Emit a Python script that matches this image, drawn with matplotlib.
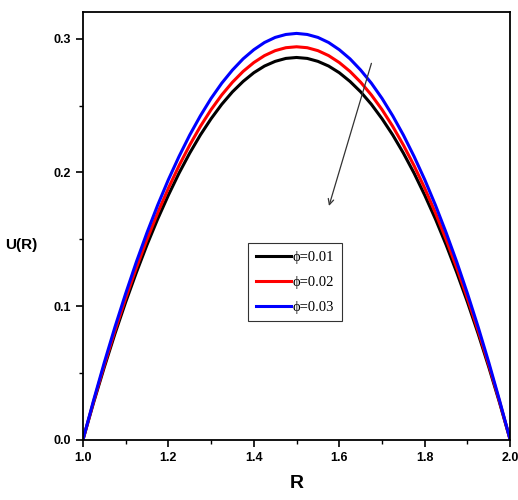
import matplotlib.pyplot as plt
from matplotlib.ticker import MultipleLocator

R = [1.000, 1.025, 1.050, 1.075, 1.100, 1.125, 1.150, 1.175, 1.200, 1.225,
     1.250, 1.275, 1.300, 1.325, 1.350, 1.375, 1.400, 1.425, 1.450, 1.475,
     1.500, 1.525, 1.550, 1.575, 1.600, 1.625, 1.650, 1.675, 1.700, 1.725,
     1.750, 1.775, 1.800, 1.825, 1.850, 1.875, 1.900, 1.925, 1.950, 1.975, 2.000]
u_001 = [0.0000, 0.0279, 0.0543, 0.0794, 0.1030, 0.1251, 0.1459, 0.1652, 0.1830, 0.1995,
         0.2145, 0.2281, 0.2402, 0.2510, 0.2603, 0.2681, 0.2746, 0.2796, 0.2831, 0.2853,
         0.2860, 0.2853, 0.2831, 0.2796, 0.2746, 0.2681, 0.2603, 0.2510, 0.2402, 0.2281,
         0.2145, 0.1995, 0.1830, 0.1652, 0.1459, 0.1251, 0.1030, 0.0794, 0.0543, 0.0279, 0.0000]
u_002 = [0.0000, 0.0287, 0.0559, 0.0816, 0.1058, 0.1286, 0.1499, 0.1698, 0.1882, 0.2051,
         0.2205, 0.2345, 0.2470, 0.2580, 0.2675, 0.2756, 0.2822, 0.2874, 0.2911, 0.2933,
         0.2940, 0.2933, 0.2911, 0.2874, 0.2822, 0.2756, 0.2675, 0.2580, 0.2470, 0.2345,
         0.2205, 0.2051, 0.1882, 0.1698, 0.1499, 0.1286, 0.1058, 0.0816, 0.0559, 0.0287, 0.0000]
u_003 = [0.0000, 0.0296, 0.0578, 0.0844, 0.1094, 0.1330, 0.1550, 0.1756, 0.1946, 0.2120,
         0.2280, 0.2424, 0.2554, 0.2668, 0.2766, 0.2850, 0.2918, 0.2972, 0.3010, 0.3032,
         0.3040, 0.3032, 0.3010, 0.2972, 0.2918, 0.2850, 0.2766, 0.2668, 0.2554, 0.2424,
         0.2280, 0.2120, 0.1946, 0.1756, 0.1550, 0.1330, 0.1094, 0.0844, 0.0578, 0.0296, 0.0000]
labels = ["\u03d5=0.01", "\u03d5=0.02", "\u03d5=0.03"]
colors = ["black", "red", "blue"]

fig = plt.figure(figsize=(5.18, 5.0), dpi=100)
ax = fig.add_axes([0.160, 0.120, 0.825, 0.856])

for u, lab, c in zip([u_001, u_002, u_003], labels, colors):
    ax.plot(R, u, color=c, lw=2.2, label=lab)

ax.set_xlim(1.0, 2.0)
ax.set_ylim(0.0, 0.32)
ax.xaxis.set_major_locator(MultipleLocator(0.2))
ax.xaxis.set_minor_locator(MultipleLocator(0.1))
ax.yaxis.set_major_locator(MultipleLocator(0.1))
ax.yaxis.set_minor_locator(MultipleLocator(0.05))
ax.tick_params(which="major", direction="out", length=5, width=1.2)
ax.tick_params(which="minor", direction="out", length=3, width=1.0)
for sp in ax.spines.values():
    sp.set_linewidth(1.3)

for lbl in ax.get_xticklabels() + ax.get_yticklabels():
    lbl.set_fontfamily("Liberation Sans")
    lbl.set_fontweight("bold")
    lbl.set_fontsize(9)

ax.set_xlabel("R", fontfamily="Liberation Sans", fontweight="bold", fontsize=14, labelpad=8)
ax.set_ylabel("U(R)", fontfamily="Liberation Sans", fontweight="bold", fontsize=11,
              rotation=0, labelpad=14)
ax.yaxis.set_label_coords(-0.145, 0.44)

ax.annotate("", xy=(1.574, 0.173), xytext=(1.677, 0.2836),
            arrowprops=dict(arrowstyle="->", color="#333333", lw=0.9))

leg = ax.legend(loc="lower left", bbox_to_anchor=(0.387, 0.278), borderaxespad=0,
                prop={"family": "Liberation Serif", "size": 10.5},
                frameon=True, fancybox=False, handlelength=2.4,
                handletextpad=0.15, borderpad=0.5, labelspacing=0.8)
leg.get_frame().set_edgecolor("black")
leg.get_frame().set_linewidth(0.8)

fig.savefig("out.png", dpi=100)
